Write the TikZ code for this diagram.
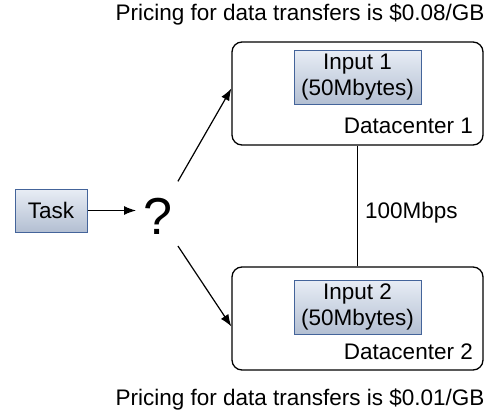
\documentclass[tikz,border=0pt]{standalone}
\usepackage[rgb]{xcolor}
\usepackage{fontspec}
\setmainfont{Liberation Sans}
\usepackage{tikz}
\usetikzlibrary{arrows.meta}

\definecolor{boxtop}{HTML}{E8EDF5}
\definecolor{boxbottom}{HTML}{B3BFD2}
\definecolor{boxline}{HTML}{44649A}

\tikzset{
  txt/.style={font=\fontsize{22.5}{26}\selectfont, inner sep=0pt},
  filebox/.style={txt, draw=boxline, line width=1pt, top color=boxtop,
    bottom color=boxbottom, align=center},
  dcbox/.style={draw=black, line width=1.3pt, rounded corners=10pt,
    minimum width=251pt, minimum height=103pt, inner sep=0pt},
  arr/.style={line width=1.2pt, -{Latex[length=12pt,width=9pt]}}
}

\begin{document}
\begin{tikzpicture}[x=1pt, y=-1pt]

\useasboundingbox (0,0) rectangle (498,415);


% Datacenters
\path
(357.5,93.5) node [dcbox] (dc1) {};
\path
(357.5,318.5) node [dcbox] (dc2) {};

\path
(473,133) node [txt, anchor=base east] (dc1lbl) {Datacenter 1};
\path
(473,359) node [txt, anchor=base east] (dc2lbl) {Datacenter 2};


% Inputs stored in each datacenter
\path
(357.5,77) node [filebox, minimum width=127pt, minimum height=54pt] (in1) {Input 1\\(50Mbytes)};
\path
(357.5,307) node [filebox, minimum width=127pt, minimum height=54pt] (in2) {Input 2\\(50Mbytes)};


% Link between datacenters
\draw[line width=1.2pt] (dc1) -- (dc2);
\path
(365,218) node [txt, anchor=base west] (bw) {100Mbps};


% Task and placement choice
\path
(51,210.5) node [filebox, minimum width=72pt, minimum height=43pt] (task) {Task};
\path
(158,216) node [font=\fontsize{52}{56}\selectfont, inner sep=0pt] (q) {?};

\draw[arr] (task.east) -- (136,210.5);
\draw[arr, shorten <=40pt] (q.center) -- ([yshift=5pt]dc1.west);
\draw[arr, shorten <=36pt] (q.center) -- ([yshift=-8pt]dc2.west);


% Pricing
\path
(300,15) node [txt] (price1) {Pricing for data transfers is \$0.08/GB};
\path
(300,400) node [txt] (price2) {Pricing for data transfers is \$0.01/GB};


\end{tikzpicture}
\end{document}
